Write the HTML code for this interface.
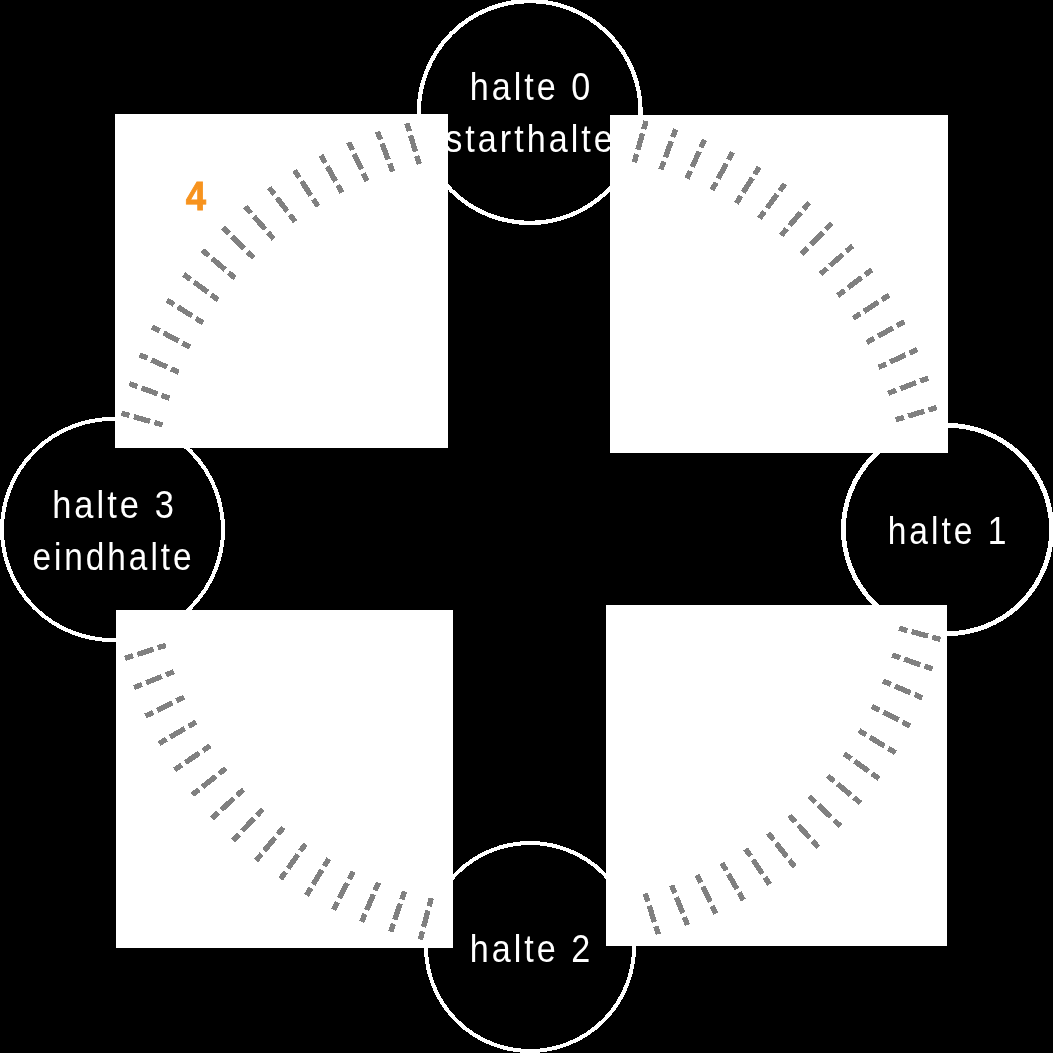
<!DOCTYPE html>
<html><head><meta charset="utf-8"><style>
html,body{margin:0;padding:0;background:#000;width:1053px;height:1053px;overflow:hidden}
svg{display:block}
text{font-family:"Liberation Sans",sans-serif}
</style></head><body>
<svg width="1053" height="1053" viewBox="0 0 1053 1053">
<rect width="1053" height="1053" fill="#000"/>
<g fill="none" stroke="#fff" shape-rendering="crispEdges">
<circle cx="529.75" cy="112" r="110.9" stroke-width="4.25"/>
<circle cx="947.5" cy="529.5" r="104.1" stroke-width="4.8"/>
<circle cx="530" cy="947" r="104" stroke-width="4"/>
<circle cx="112.5" cy="529.5" r="110.5" stroke-width="4"/>
</g>
<g style="will-change:transform" fill="#fff" font-size="39.5" text-anchor="middle">
<text x="531.53" y="100" letter-spacing="3.5" transform="translate(531.53 0) scale(0.8648 1) translate(-531.53 0)">halte 0</text>
<text x="530.50" y="152" letter-spacing="3.5" transform="translate(530.50 0) scale(0.8648 1) translate(-530.50 0)">starthalte</text>
<text x="948.50" y="544" letter-spacing="3.5" transform="translate(948.50 0) scale(0.8502 1) translate(-948.50 0)">halte 1</text>
<text x="531.54" y="962" letter-spacing="3.5" transform="translate(531.54 0) scale(0.8648 1) translate(-531.54 0)">halte 2</text>
<text x="114.53" y="518" letter-spacing="3.5" transform="translate(114.53 0) scale(0.8722 1) translate(-114.53 0)">halte 3</text>
<text x="113.49" y="570" letter-spacing="3.5" transform="translate(113.49 0) scale(0.8451 1) translate(-113.49 0)">eindhalte</text>
</g>
<g fill="#fff" shape-rendering="crispEdges">
<rect x="115" y="114" width="333" height="334"/>
<rect x="610" y="115" width="338" height="338"/>
<rect x="116" y="610" width="337" height="338"/>
<rect x="606" y="605" width="341" height="341"/>
</g>
<g shape-rendering="crispEdges" stroke="#808080" stroke-width="5.35" stroke-dasharray="8.5 4.4 17 4.4 8.5" fill="none">
<line x1="406.87" y1="123.12" x2="419.24" y2="164.09"/>
<line x1="377.46" y1="131.58" x2="392.74" y2="171.56"/>
<line x1="348.81" y1="142.33" x2="366.91" y2="181.11"/>
<line x1="321.10" y1="155.30" x2="341.93" y2="192.70"/>
<line x1="294.51" y1="170.42" x2="317.95" y2="206.24"/>
<line x1="269.19" y1="187.59" x2="295.12" y2="221.65"/>
<line x1="245.30" y1="206.70" x2="273.58" y2="238.83"/>
<line x1="223.00" y1="227.64" x2="253.49" y2="257.67"/>
<line x1="202.41" y1="250.27" x2="234.97" y2="278.05"/>
<line x1="183.68" y1="274.45" x2="218.12" y2="299.85"/>
<line x1="166.90" y1="300.03" x2="203.07" y2="322.92"/>
<line x1="152.20" y1="326.86" x2="189.91" y2="347.11"/>
<line x1="139.66" y1="354.77" x2="178.71" y2="372.27"/>
<line x1="129.35" y1="383.58" x2="169.56" y2="398.24"/>
<line x1="121.35" y1="413.12" x2="162.51" y2="424.86"/>
<line x1="646.08" y1="121.06" x2="634.34" y2="162.22"/>
<line x1="675.65" y1="129.21" x2="660.97" y2="169.41"/>
<line x1="704.48" y1="139.64" x2="686.95" y2="178.69"/>
<line x1="732.40" y1="152.29" x2="712.13" y2="189.99"/>
<line x1="759.25" y1="167.10" x2="736.33" y2="203.24"/>
<line x1="784.85" y1="183.95" x2="759.41" y2="218.37"/>
<line x1="809.05" y1="202.76" x2="781.23" y2="235.28"/>
<line x1="831.71" y1="223.40" x2="801.64" y2="253.86"/>
<line x1="852.68" y1="245.76" x2="820.52" y2="273.99"/>
<line x1="871.84" y1="269.68" x2="837.74" y2="295.56"/>
<line x1="889.06" y1="295.04" x2="853.21" y2="318.41"/>
<line x1="904.25" y1="321.66" x2="866.82" y2="342.42"/>
<line x1="917.31" y1="349.40" x2="878.50" y2="367.42"/>
<line x1="928.17" y1="378.07" x2="888.15" y2="393.27"/>
<line x1="936.74" y1="407.51" x2="895.74" y2="419.79"/>
<line x1="940.41" y1="639.37" x2="899.06" y2="628.31"/>
<line x1="932.52" y1="668.96" x2="892.07" y2="654.96"/>
<line x1="922.36" y1="697.84" x2="883.02" y2="680.98"/>
<line x1="910.00" y1="725.85" x2="871.97" y2="706.23"/>
<line x1="895.52" y1="752.82" x2="858.98" y2="730.53"/>
<line x1="879.00" y1="778.60" x2="844.14" y2="753.76"/>
<line x1="860.54" y1="803.01" x2="827.54" y2="775.75"/>
<line x1="840.24" y1="825.93" x2="809.27" y2="796.39"/>
<line x1="818.24" y1="847.22" x2="789.46" y2="815.54"/>
<line x1="794.66" y1="866.74" x2="768.21" y2="833.09"/>
<line x1="769.64" y1="884.38" x2="745.66" y2="848.94"/>
<line x1="743.34" y1="900.04" x2="721.94" y2="862.97"/>
<line x1="715.89" y1="913.62" x2="697.21" y2="875.12"/>
<line x1="687.48" y1="925.04" x2="671.61" y2="885.30"/>
<line x1="658.27" y1="934.24" x2="645.30" y2="893.45"/>
<line x1="125.03" y1="658.30" x2="165.81" y2="645.31"/>
<line x1="134.12" y1="687.55" x2="173.86" y2="671.66"/>
<line x1="145.47" y1="715.99" x2="183.97" y2="697.30"/>
<line x1="159.01" y1="743.46" x2="196.07" y2="722.06"/>
<line x1="174.64" y1="769.79" x2="210.08" y2="745.79"/>
<line x1="192.29" y1="794.81" x2="225.93" y2="768.34"/>
<line x1="211.84" y1="818.38" x2="243.50" y2="789.58"/>
<line x1="233.16" y1="840.34" x2="262.70" y2="809.36"/>
<line x1="256.14" y1="860.58" x2="283.39" y2="827.57"/>
<line x1="280.63" y1="878.95" x2="305.46" y2="844.09"/>
<line x1="306.48" y1="895.36" x2="328.76" y2="858.82"/>
<line x1="333.54" y1="909.70" x2="353.14" y2="871.66"/>
<line x1="361.63" y1="921.89" x2="378.47" y2="882.54"/>
<line x1="390.59" y1="931.84" x2="404.56" y2="891.38"/>
<line x1="420.25" y1="939.50" x2="431.27" y2="898.14"/>
</g>
<g style="will-change:transform"><text x="195.8" y="210.0" font-size="41" font-weight="bold" fill="#f7931e" stroke="#f7931e" stroke-width="0.9" text-anchor="middle" transform="translate(195.8 0) scale(0.89 1) translate(-195.8 0)">4</text></g>
</svg>
</body></html>
